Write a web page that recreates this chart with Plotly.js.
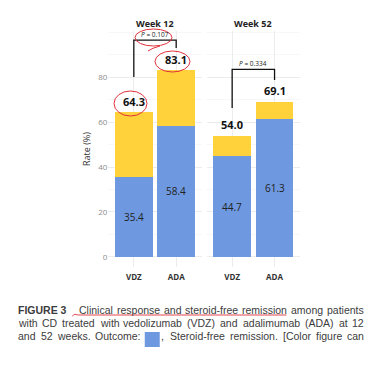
<!DOCTYPE html>
<html><head><meta charset="utf-8">
<script src="https://cdn.plot.ly/plotly-3.0.1.min.js"></script>
<style>html,body{margin:0;padding:0;background:#fff;}#chart{width:377px;height:370px;}</style>
</head><body><div id="chart"></div>
<script>
// ---- data ----
const categories = ['VDZ', 'ADA'];
const panelTitles = ['Week 12', 'Week 52'];
const steroidFree12 = [35.4, 58.4];
const clinical12 = [64.3, 83.1];
const steroidFree52 = [44.7, 61.3];
const clinical52 = [54.0, 69.1];
const pValues = ['0.107', '0.334'];
// bracket levels [left leg bottom, top, right leg bottom]
const bracket12 = [80, 96.4, 92.9];
const bracket52 = [66.2, 83.4, 78.7];
const yTicks = [0, 20, 40, 60, 80];
const captionLines = [
  'FIGURE 3|Clinical response and steroid-free remission among patients',
  'with CD treated with vedolizumab (VDZ) and adalimumab (ADA) at 12',
  'and 52 weeks. Outcome: [SQ], Steroid-free remission. [Color figure can'
];

const BLUE = '#6E98DF', YELLOW = '#FFD23C', RED = '#E0323C';
const W = 377, H = 370;
const px = x => x / W, py = y => 1 - y / H;
const FONT = 'Open Sans, Liberation Sans, sans-serif';

function diff(a, b) { return a.map((v, i) => +(v - b[i]).toFixed(1)); }

const panels = [
  {xa: 'x', sf: steroidFree12, cl: clinical12, br: bracket12, p: pValues[0]},
  {xa: 'x2', sf: steroidFree52, cl: clinical52, br: bracket52, p: pValues[1]}
];

const traces = [];
const annotations = [];
const shapes = [];
panels.forEach((pn, k) => {
  traces.push({type: 'bar', x: categories, y: pn.sf, xaxis: pn.xa, yaxis: 'y',
    marker: {color: BLUE}, name: 'Steroid-free remission', hoverinfo: 'skip'});
  traces.push({type: 'bar', x: categories, y: diff(pn.cl, pn.sf), xaxis: pn.xa, yaxis: 'y',
    marker: {color: YELLOW}, name: 'Clinical response', hoverinfo: 'skip'});
  traces.push({type: 'scatter', mode: 'lines', xaxis: pn.xa, yaxis: 'y',
    x: [categories[0], categories[0], categories[1], categories[1]],
    y: [pn.br[0], pn.br[1], pn.br[1], pn.br[2]],
    line: {color: '#111', width: 1.3}, hoverinfo: 'skip'});
  categories.forEach((c, i) => {
    annotations.push({xref: pn.xa, yref: 'y', x: c, y: pn.cl[i], yshift: 11, yanchor: 'middle', showarrow: false,
      text: '<b>' + pn.cl[i].toFixed(1) + '</b>', font: {family: FONT, size: 11, color: '#111'}});
    annotations.push({xref: pn.xa, yref: 'y', x: c, y: pn.sf[i] / 2, yanchor: 'middle', showarrow: false,
      text: pn.sf[i].toFixed(1), font: {family: FONT, size: 10, color: '#222'}});
  });
  annotations.push({xref: pn.xa, yref: 'y', x: 0.5, y: pn.br[1], yshift: 6, yanchor: 'middle', showarrow: false,
    text: '<i>P</i> = ' + pn.p, font: {family: FONT, size: 6.5, color: '#222'}});
  annotations.push({xref: pn.xa + ' domain', yref: 'paper', x: 0.5, y: py(23.5), yanchor: 'middle', showarrow: false,
    text: '<b>' + panelTitles[k] + '</b>', font: {family: FONT, size: 9, color: '#222'}});
});

// ---- caption, justified word by word ----
const CAPSIZE = 10.5;
const CAPFAM = 'Liberation Sans';
const CAP = {family: CAPFAM + ', Arial, sans-serif', size: CAPSIZE, color: '#3c3c3c'};
const ctx = document.createElement('canvas').getContext('2d');
function measure(t, bold) {
  ctx.font = (bold ? 'bold ' : '') + CAPSIZE + 'px "' + CAPFAM + '"';
  return ctx.measureText(t).width;
}
const CAP_X0 = 17, CAP_X1 = 363, LINE_Y = [310, 323, 336], SQ = 15;
let underline = null;
captionLines.forEach((line, li) => {
  let tokens = [];
  if (line.indexOf('|') >= 0) {
    const [head, rest] = line.split('|');
    tokens.push({t: head, bold: true, extraGap: 9});
    rest.split(' ').forEach(w => tokens.push({t: w}));
  } else {
    line.split(' ').forEach(w => tokens.push({t: w}));
  }
  tokens.forEach(tk => {
    if (tk.t.indexOf('[SQ]') === 0) {
      tk.sq = true; tk.rest = tk.t.slice(4);
      tk.w = SQ + 1 + measure(tk.rest);
    } else tk.w = measure(tk.t, tk.bold);
  });
  const total = tokens.reduce((s, tk) => s + tk.w + (tk.extraGap || 0), 0);
  const gap = (CAP_X1 - CAP_X0 - total) / (tokens.length - 1);
  let x = CAP_X0;
  tokens.forEach((tk, i) => {
    if (tk.sq) {
      shapes.push({type: 'rect', xref: 'paper', yref: 'paper', x0: px(x), x1: px(x + SQ),
        y0: py(LINE_Y[li] + 11), y1: py(LINE_Y[li] - 4), fillcolor: BLUE, line: {width: 0}});
      annotations.push({xref: 'paper', yref: 'paper', x: px(x + SQ), y: py(LINE_Y[li]), xanchor: 'left', yanchor: 'middle',
        showarrow: false, borderpad: 0, text: tk.rest, font: CAP});
    } else {
      annotations.push({xref: 'paper', yref: 'paper', x: px(x), y: py(LINE_Y[li]), xanchor: 'left', yanchor: 'middle',
        showarrow: false, borderpad: 0, text: tk.bold ? '<b>' + tk.t + '</b>' : tk.t, font: CAP});
    }
    if (li === 0 && tk.t === 'Clinical') underline = {x0: x};
    if (li === 0 && tk.t === 'remission') underline.x1 = x + tk.w;
    x += tk.w + gap + (tk.extraGap || 0);
  });
});

// hand-drawn red marks
shapes.push(
  {type: 'circle', xref: 'paper', yref: 'paper', x0: px(135), x1: px(172), y0: py(29), y1: py(46),
    line: {color: RED, width: 1}},
  {type: 'path', xref: 'paper', yref: 'paper',
    path: `M ${px(160)} ${py(46)} Q ${px(152)} ${py(48)} ${px(148)} ${py(51)}`, line: {color: RED, width: 1}},
  {type: 'circle', xref: 'paper', yref: 'paper', x0: px(155), x1: px(190), y0: py(51), y1: py(72),
    line: {color: RED, width: 1}},
  {type: 'circle', xref: 'paper', yref: 'paper', x0: px(114), x1: px(147), y0: py(91), y1: py(116),
    line: {color: RED, width: 1}}
);
if (underline) {
  const uy = LINE_Y[0] + 5;
  shapes.push({type: 'path', xref: 'paper', yref: 'paper',
    path: `M ${px(underline.x0 - 6)} ${py(uy + 1)} Q ${px(underline.x0 - 4)} ${py(uy - 2)} ${px(underline.x0)} ${py(uy)} L ${px(underline.x1)} ${py(uy)}`,
    line: {color: RED, width: 0.9}});
}

const xbase = {type: 'category', range: [-0.6, 1.6], showgrid: true, gridcolor: '#ececec', gridwidth: 1,
  zeroline: false, showline: false, ticks: '', anchor: 'y', ticklabelstandoff: 4,
  tickfont: {family: FONT, size: 8, color: '#333', weight: 'bold'}};

const layout = {
  width: W, height: H, autosize: false,
  margin: {l: 0, r: 0, t: 0, b: 0},
  paper_bgcolor: '#fff', plot_bgcolor: '#fff',
  barmode: 'stack', bargap: 0.11, showlegend: false,
  xaxis: Object.assign({}, xbase, {domain: [px(108.4), px(201.6)]}),
  xaxis2: Object.assign({}, xbase, {domain: [px(206.7), px(300)]}),
  yaxis: {domain: [py(267.1), py(30.9)], range: [-4.5, 100.5], tickvals: yTicks,
    showgrid: true, gridcolor: '#ececec', gridwidth: 1, zeroline: false, showline: false, ticks: '',
    minor: {dtick: 10, tick0: 0, showgrid: true, gridcolor: '#f5f5f5', gridwidth: 0.8},
    tickfont: {family: FONT, size: 8, color: '#8c8c8c'}, anchor: 'x',
    title: {text: 'Rate (%)', font: {family: FONT, size: 9, color: '#333'}, standoff: 6}},
  annotations: annotations,
  shapes: shapes
};

Plotly.newPlot('chart', traces, layout, {displayModeBar: false, staticPlot: true});
</script></body></html>
